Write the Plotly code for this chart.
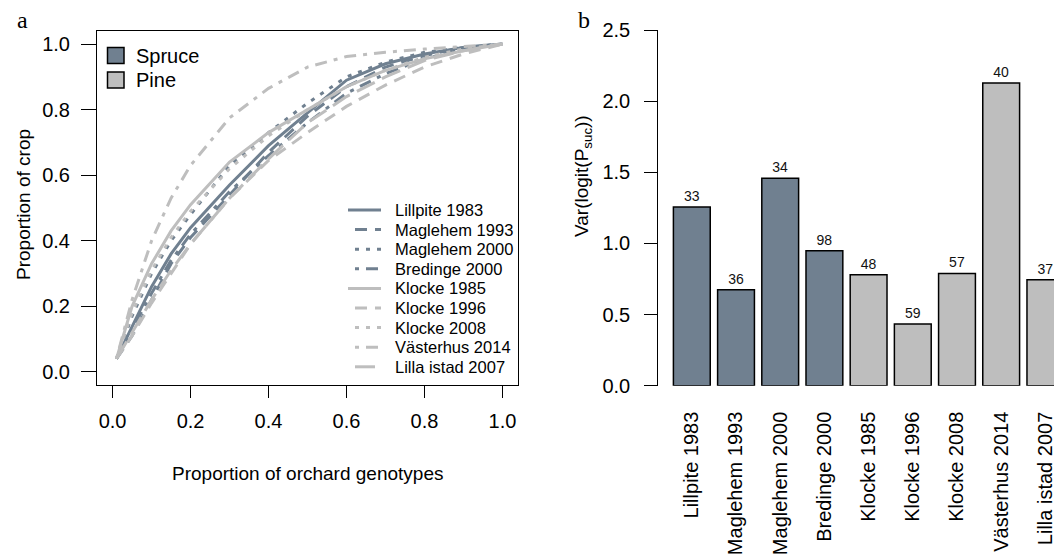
import plotly.graph_objects as go

FW, FH = 1054, 557

# ---------------- Panel a data (Lorenz-type curves) ----------------
prop_genotypes = [0.01, 0.05, 0.10, 0.15, 0.20, 0.30, 0.40, 0.50, 0.60, 0.70, 0.80, 0.90, 1.00]

lillpite_1983   = [0.04, 0.14, 0.26, 0.36, 0.44, 0.57, 0.69, 0.79, 0.89, 0.94, 0.97, 0.99, 1.00]
maglehem_1993   = [0.04, 0.11, 0.22, 0.33, 0.41, 0.54, 0.67, 0.78, 0.87, 0.93, 0.965, 0.99, 1.00]
maglehem_2000   = [0.04, 0.17, 0.30, 0.40, 0.48, 0.63, 0.73, 0.82, 0.90, 0.945, 0.975, 0.99, 1.00]
bredinge_2000   = [0.04, 0.13, 0.24, 0.34, 0.42, 0.55, 0.66, 0.76, 0.85, 0.91, 0.955, 0.985, 1.00]
klocke_1985     = [0.04, 0.20, 0.33, 0.43, 0.51, 0.64, 0.73, 0.80, 0.87, 0.92, 0.955, 0.98, 1.00]
klocke_1996     = [0.04, 0.11, 0.21, 0.30, 0.39, 0.53, 0.645, 0.73, 0.81, 0.875, 0.93, 0.97, 1.00]
klocke_2008     = [0.04, 0.18, 0.31, 0.41, 0.49, 0.62, 0.72, 0.80, 0.87, 0.92, 0.96, 0.985, 1.00]
vasterhus_2014  = [0.04, 0.22, 0.40, 0.53, 0.63, 0.775, 0.865, 0.93, 0.962, 0.975, 0.985, 0.993, 1.00]
lilla_istad_2007 = [0.04, 0.12, 0.22, 0.31, 0.39, 0.53, 0.65, 0.76, 0.84, 0.90, 0.95, 0.98, 1.00]

orchards = ["Lillpite 1983", "Maglehem 1993", "Maglehem 2000", "Bredinge 2000",
            "Klocke 1985", "Klocke 1996", "Klocke 2008", "Västerhus 2014", "Lilla istad 2007"]
species = ["Spruce", "Spruce", "Spruce", "Spruce", "Pine", "Pine", "Pine", "Pine", "Pine"]
species_names = ["Spruce", "Pine"]
curves = [lillpite_1983, maglehem_1993, maglehem_2000, bredinge_2000,
          klocke_1985, klocke_1996, klocke_2008, vasterhus_2014, lilla_istad_2007]

# ---------------- Panel b data ----------------
var_logit_psuc = [1.256, 0.674, 1.458, 0.948, 0.779, 0.434, 0.789, 2.127, 0.744]
n_genotypes = [33, 36, 34, 98, 48, 59, 57, 40, 37]

# ---------------- Styles ----------------
species_color = {"Spruce": "#708090", "Pine": "#BEBEBE"}
dashes = ["solid", "12px,8px", "4px,7px", "4px,7px,12px,7px",
          "solid", "12px,8px", "4px,7px", "4px,7px,12px,7px", "20px,8px"]

FONT = "Liberation Sans, Arial, sans-serif"
SERIF = "Liberation Serif, Times New Roman, serif"


def sx(p):
    """screen px (x) -> paper fraction"""
    return p / FW


def sy(p):
    """screen px (y) -> paper fraction"""
    return 1 - p / FH


fig = go.Figure()

# curves
for name, sp, ys, d in zip(orchards, species, curves, dashes):
    fig.add_trace(go.Scatter(
        x=prop_genotypes, y=ys, mode="lines", name=name,
        line=dict(color=species_color[sp], width=3, dash=d),
        xaxis="x", yaxis="y", showlegend=False))

# bars
fig.add_trace(go.Bar(
    x=orchards, y=var_logit_psuc, xaxis="x2", yaxis="y2",
    marker=dict(color=[species_color[s] for s in species],
                line=dict(color="black", width=1.5)),
    text=[str(n) for n in n_genotypes], textposition="outside",
    textfont=dict(size=14, color="#111", family=FONT),
    constraintext="none", cliponaxis=False, showlegend=False))

axis_common = dict(showgrid=False, zeroline=False, linecolor="black", linewidth=1,
                   ticks="outside", tickcolor="black", tickwidth=1,
                   tickfont=dict(size=20, family=FONT, color="black"))

shapes = []
annotations = []

# ----- legend of curves (bottom-right of panel a) -----
row0, row_step = 210.0, 19.6
for i, (name, sp, d) in enumerate(zip(orchards, species, dashes)):
    yc = row0 + i * row_step
    x_start = 348 if d == "solid" else 355
    shapes.append(dict(type="line", xref="paper", yref="paper",
                       x0=sx(x_start), x1=sx(381), y0=sy(yc), y1=sy(yc),
                       line=dict(color=species_color[sp], width=3, dash=d)))
    annotations.append(dict(text=name, x=sx(393), y=sy(yc), xref="paper", yref="paper",
                            xanchor="left", yanchor="middle", showarrow=False,
                            font=dict(size=16.5, family=FONT, color="black")))

# ----- species legend (top-left of panel a) -----
for i, sp in enumerate(species_names):
    yc = 55.5 + i * 24.5
    shapes.append(dict(type="rect", xref="paper", yref="paper",
                       x0=sx(107.5), x1=sx(124), y0=sy(yc - 8), y1=sy(yc + 8),
                       fillcolor=species_color[sp], line=dict(color="black", width=1.5)))
    annotations.append(dict(text=sp, x=sx(134), y=sy(yc), xref="paper", yref="paper",
                            xanchor="left", yanchor="middle", showarrow=False,
                            font=dict(size=20, family=FONT, color="black")))

annotations += [
    dict(text="a", x=sx(22), y=sy(35), xref="paper", yref="paper",
         xanchor="center", yanchor="bottom", showarrow=False,
         font=dict(size=24, family=SERIF, color="black")),
    dict(text="b", x=sx(584), y=sy(35), xref="paper", yref="paper",
         xanchor="center", yanchor="bottom", showarrow=False,
         font=dict(size=24, family=SERIF, color="black")),
    dict(text="Proportion of crop", x=sx(24), y=sy(205), xref="paper", yref="paper",
         xanchor="center", yanchor="middle", textangle=-90, showarrow=False,
         font=dict(size=19, family=FONT, color="black")),
    dict(text="Proportion of orchard genotypes", x=sx(307), y=sy(473),
         xref="paper", yref="paper", xanchor="center", yanchor="middle",
         showarrow=False, font=dict(size=19, family=FONT, color="black")),
    dict(text="Var(logit(P<sub>suc</sub>))", x=sx(583), y=sy(176),
         xref="paper", yref="paper", xanchor="center", yanchor="middle",
         textangle=-90, showarrow=False,
         font=dict(size=19, family=FONT, color="black")),
]

fig.update_layout(
    width=FW, height=FH,
    margin=dict(l=0, r=0, t=0, b=0, pad=0, autoexpand=False),
    paper_bgcolor="white", plot_bgcolor="white",
    font=dict(family=FONT, color="black"),
    showlegend=False,
    xaxis=dict(domain=[sx(97), sx(518)], range=[-0.04, 1.04],
               tickvals=[0, 0.2, 0.4, 0.6, 0.8, 1.0], tickformat=".1f",
               showline=True, mirror=True, ticklen=12, ticklabelstandoff=6,
               anchor="y", **axis_common),
    yaxis=dict(domain=[sy(385), sy(31)], range=[-0.04, 1.04],
               tickvals=[0, 0.2, 0.4, 0.6, 0.8, 1.0], tickformat=".1f",
               showline=True, mirror=True, ticklen=15, ticklabelstandoff=7,
               anchor="x", **axis_common),
    xaxis2=dict(domain=[sx(657.7), 1.0], range=[-0.772, 8.195], type="category",
                showline=False, showgrid=False, zeroline=False, ticks="",
                tickangle=-90, ticklabelstandoff=21, anchor="y2",
                tickfont=dict(size=20, family=FONT, color="black")),
    yaxis2=dict(domain=[sy(385.7), sy(30)], range=[0, 2.5],
                tickvals=[0, 0.5, 1.0, 1.5, 2.0, 2.5], tickformat=".1f",
                showline=True, ticklen=12.5, ticklabelstandoff=10, anchor="x2",
                **axis_common),
    bargap=0.1667,
    shapes=shapes,
    annotations=annotations,
)

# remove the default 8px page margin so the figure sits at the window origin
fig.write_html("out.html",
               config={"displayModeBar": False},
               post_script="document.body.style.margin='0';document.body.style.overflow='hidden';")
